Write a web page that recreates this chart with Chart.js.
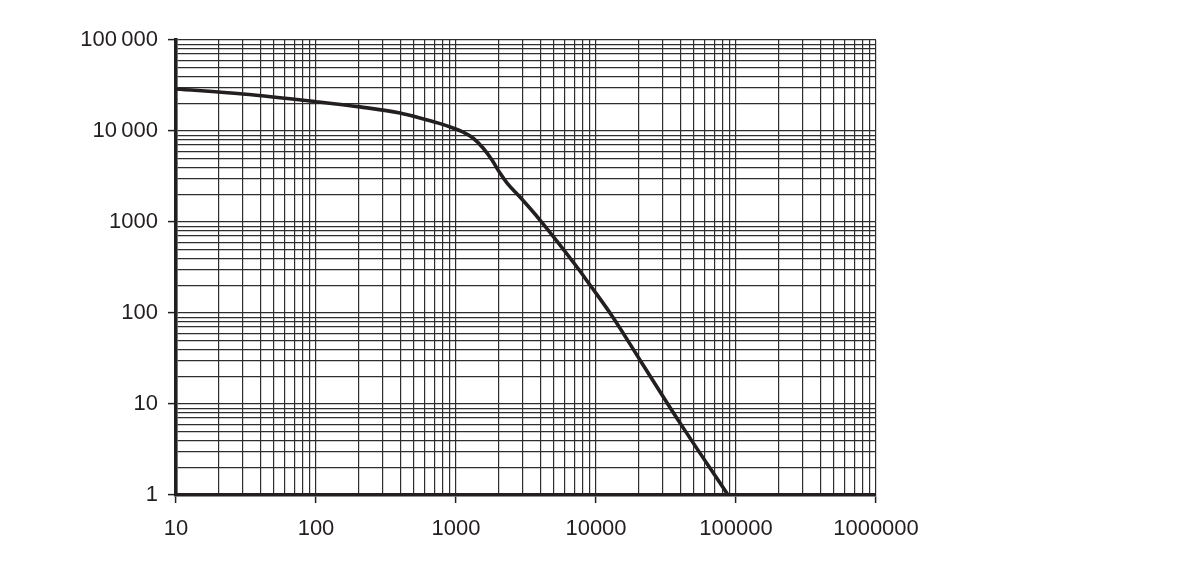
<!DOCTYPE html>
<html>
<head>
<meta charset="utf-8">
<script src="https://cdn.jsdelivr.net/npm/chart.js@4/dist/chart.umd.min.js"></script>
<style>
  html, body { margin: 0; padding: 0; background: #fff; }
  #wrap { width: 1199px; height: 562px; position: relative; }
</style>
</head>
<body>
<div id="wrap"><canvas id="chart"></canvas></div>
<script>
// ─── Data (log-log curve) ────────────────────────────────────────────
const xValues = [10, 30, 100, 206, 398, 553, 750, 952, 1122, 1322, 1560, 1807, 2062, 2350, 2864, 3980, 7310, 9060, 13200, 20600, 39800, 87700];
const yValues = [29000, 25500, 21000, 18400, 15800, 13900, 12200, 10800, 9750, 8380, 6500, 4800, 3450, 2600, 1880, 1050, 320, 203, 90, 30.5, 6.2, 1];

// decade ticks and their labels
const xDecades = [10, 100, 1000, 10000, 100000, 1000000];
const xTickLabels = ['10', '100', '1000', '10000', '100000', '1000000'];
const yDecades = [1, 10, 100, 1000, 10000, 100000];
const yTickLabels = ['1', '10', '100', '1000', '10\u2009000', '100\u2009000'];

const INK = '#231f20';
const GRID = '#2e2e2e';

// all grid positions: 1..9 x each decade, up to the last decade
function gridValues(decades) {
    const vals = [];
    decades.forEach((d, i) => {
        if (i === decades.length - 1) { vals.push(d); return; }
        for (let k = 1; k <= 9; k++) vals.push(d * k);
    });
    return vals;
}

function decadeLabel(decades, labels, value) {
    const i = decades.findIndex(d => Math.abs(d - value) / d < 1e-9);
    return i >= 0 ? labels[i] : '';
}

function isDecade(decades, value) {
    return decades.some(d => Math.abs(d - value) / d < 1e-9);
}

new Chart(document.getElementById('chart'), {
    type: 'line',
    data: {
        datasets: [{
            data: xValues.map((x, i) => ({ x: x, y: yValues[i] })),
            borderColor: INK,
            borderWidth: 3.6,
            pointRadius: 0,
            fill: false,
            cubicInterpolationMode: 'monotone'
        }]
    },
    options: {
        responsive: true,
        maintainAspectRatio: false,
        animation: false,
        layout: { padding: { top: 40, right: 323, left: 0, bottom: 0 } },
        plugins: { legend: { display: false }, tooltip: { enabled: false } },
        scales: {
            x: {
                type: 'logarithmic',
                min: 10,
                max: 1000000,
                afterBuildTicks: s => { s.ticks = gridValues(xDecades).map(v => ({ value: v })); },
                afterFit: s => { s.height = 67; },
                grid: {
                    color: GRID,
                    lineWidth: 1.2,
                    tickLength: 8,
                    tickWidth: 1.5,
                    tickColor: ctx => (ctx.tick && isDecade(xDecades, ctx.tick.value)) ? INK : 'rgba(0,0,0,0)'
                },
                border: { display: true, color: INK, width: 3.6 },
                ticks: {
                    autoSkip: false,
                    maxRotation: 0,
                    padding: 13,
                    color: INK,
                    font: { family: 'Liberation Sans, Arial, sans-serif', size: 22 },
                    callback: v => decadeLabel(xDecades, xTickLabels, v)
                }
            },
            y: {
                type: 'logarithmic',
                min: 1,
                max: 100000,
                afterBuildTicks: s => { s.ticks = gridValues(yDecades).map(v => ({ value: v })); },
                afterFit: s => { s.width = 176; },
                grid: {
                    color: GRID,
                    lineWidth: 1.2,
                    tickLength: 8,
                    tickWidth: 1.5,
                    tickColor: ctx => (ctx.tick && isDecade(yDecades, ctx.tick.value)) ? INK : 'rgba(0,0,0,0)'
                },
                border: { display: true, color: INK, width: 3.6 },
                ticks: {
                    autoSkip: false,
                    padding: 10,
                    color: INK,
                    font: { family: 'Liberation Sans, Arial, sans-serif', size: 22 },
                    callback: v => decadeLabel(yDecades, yTickLabels, v)
                }
            }
        }
    }
});
</script>
</body>
</html>
